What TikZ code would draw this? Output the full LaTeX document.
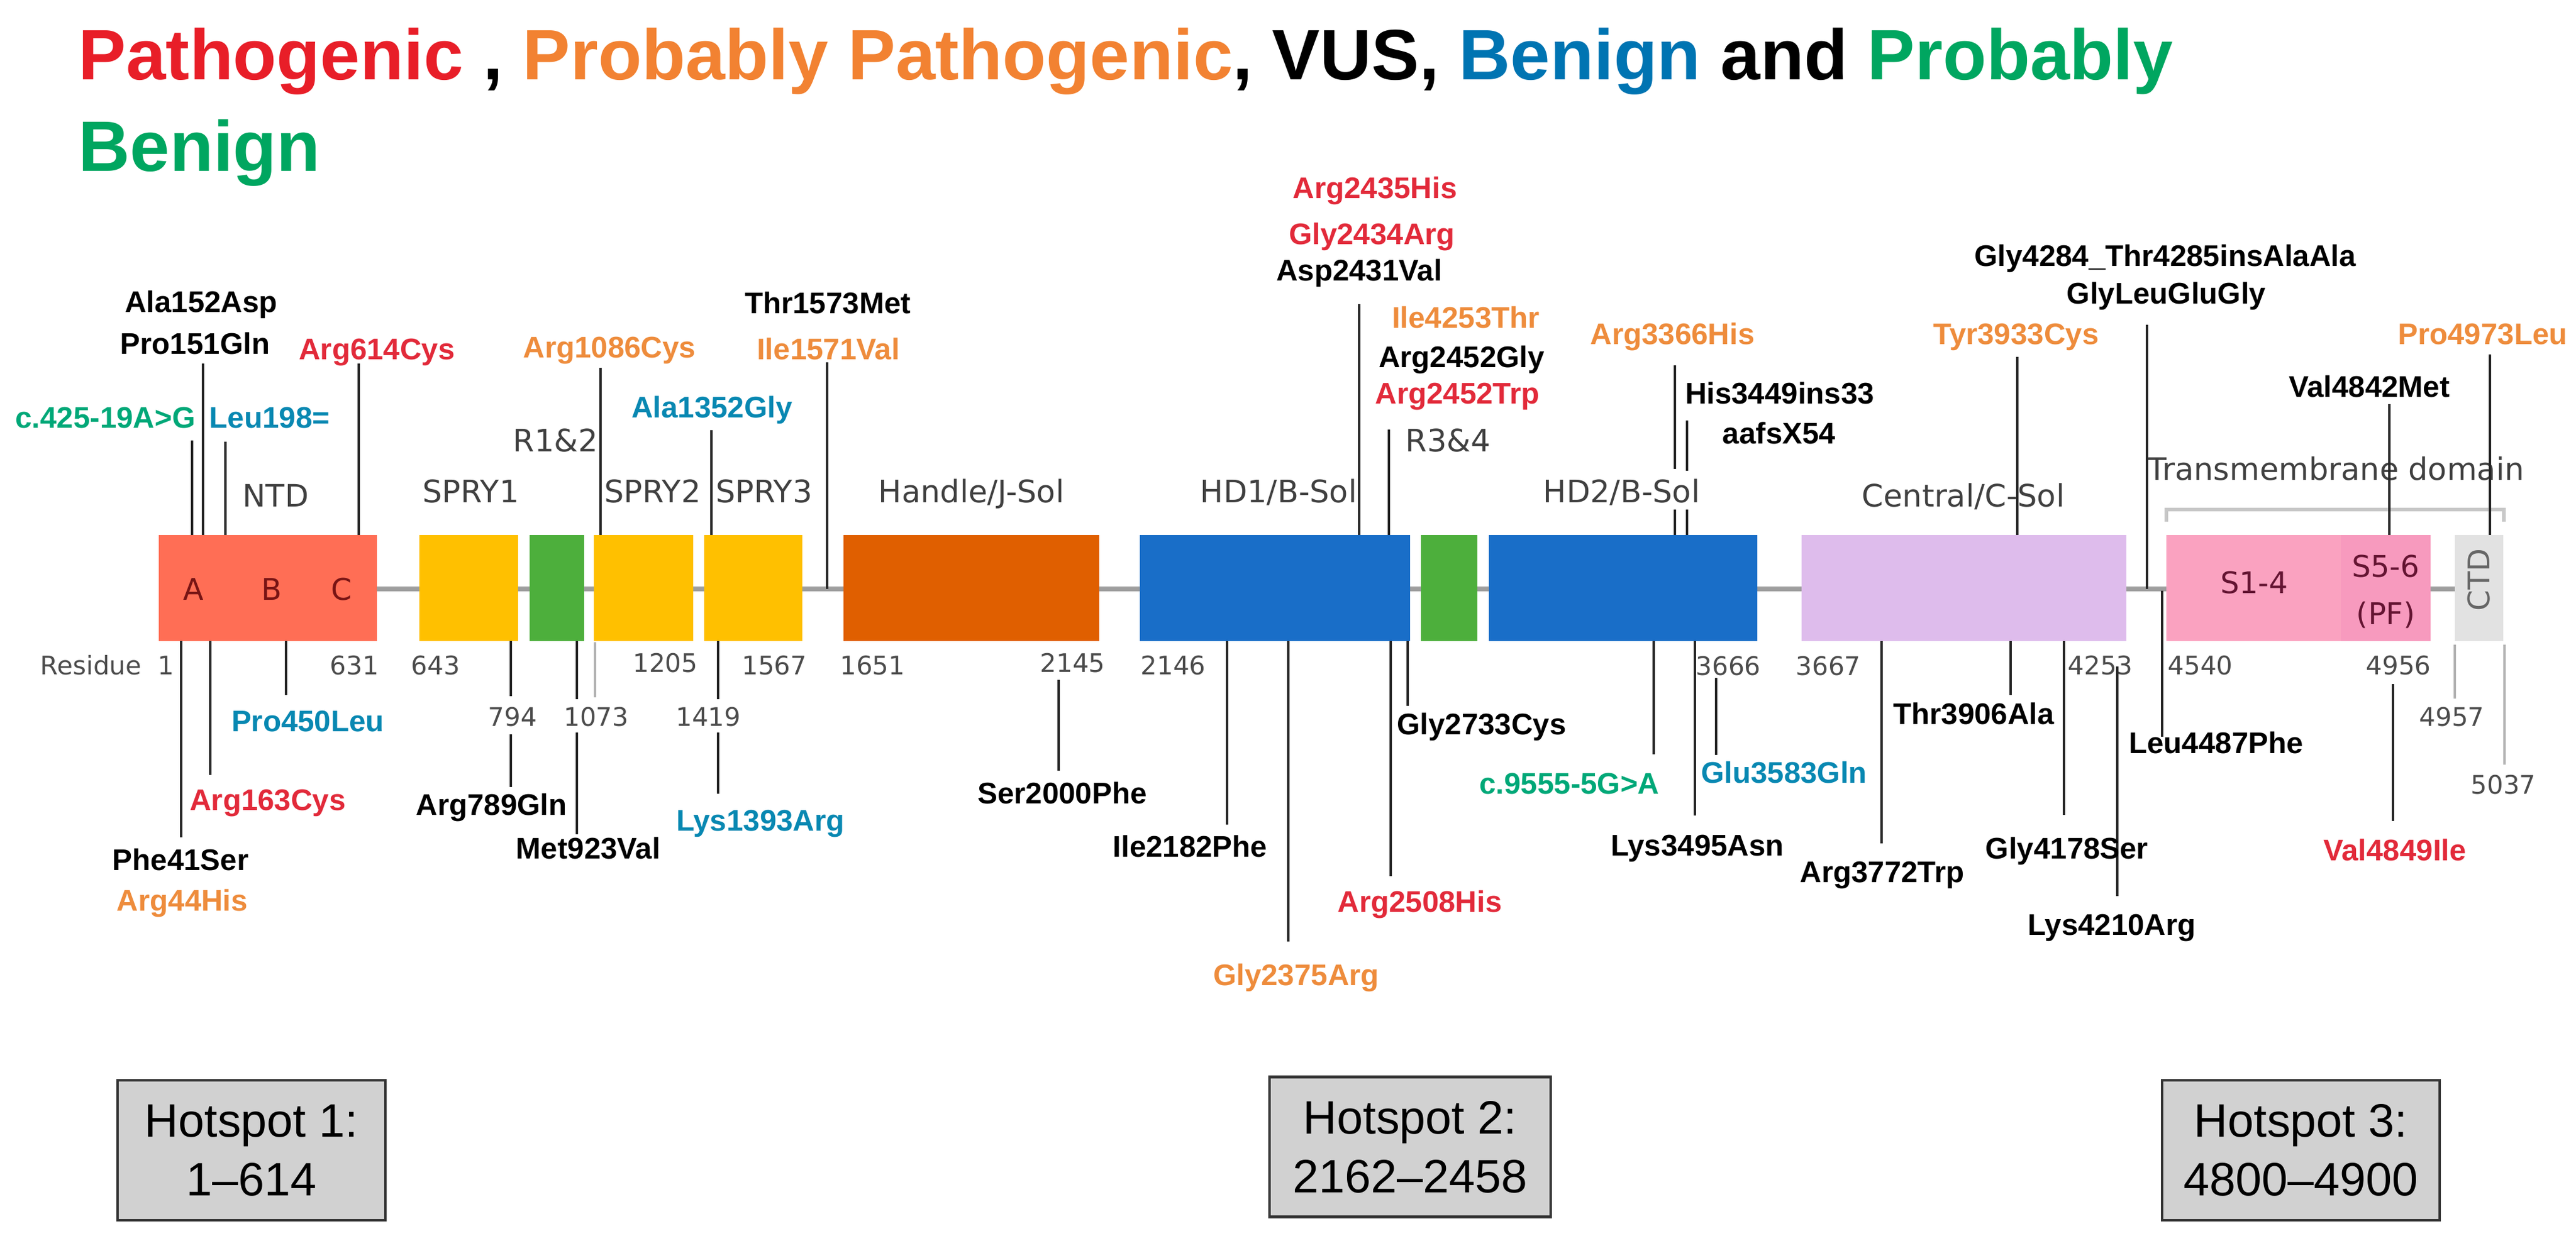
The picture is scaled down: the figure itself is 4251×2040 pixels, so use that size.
\documentclass[tikz,border=0pt]{standalone}
\usepackage{fontspec}
\setmainfont{Liberation Sans}
\newfontfamily\dvs{DejaVu Sans}
\definecolor{cPath}{RGB}{232,30,40}
\definecolor{cProb}{RGB}{242,130,50}
\definecolor{cBen}{RGB}{0,116,178}
\definecolor{cPB}{RGB}{0,166,96}
\definecolor{lPath}{RGB}{226,42,58}
\definecolor{lProb}{RGB}{238,140,60}
\definecolor{lBen}{RGB}{8,136,178}
\definecolor{lPB}{RGB}{0,168,120}
\definecolor{fNTD}{RGB}{255,110,85}
\definecolor{fSPRY}{RGB}{255,192,0}
\definecolor{fGreen}{RGB}{77,175,60}
\definecolor{fHandle}{RGB}{224,95,0}
\definecolor{fHD}{RGB}{25,110,200}
\definecolor{fCent}{RGB}{222,188,236}
\definecolor{fSone}{RGB}{250,162,192}
\definecolor{fSfive}{RGB}{247,154,190}
\definecolor{fCTD}{RGB}{226,226,226}
\definecolor{txtDom}{RGB}{64,64,64}
\newcommand\vln[4]{\coordinate (#1a) at (#2,#3); \coordinate (#1b) at (#2,#4); \draw[mline] (#1a) -- (#1b);}
\newcommand\gln[4]{\coordinate (#1a) at (#2,#3); \coordinate (#1b) at (#2,#4); \draw[gline] (#1a) -- (#1b);}
\begin{document}
\begin{tikzpicture}[x=0.01cm,y=-0.01cm,
  mut/.style={font=\fontsize{14}{16}\selectfont\bfseries, anchor=base, inner sep=0pt},
  mline/.style={draw=black!85, line width=1.3pt},
  gline/.style={draw=black!30, line width=1pt},
  dlab/.style={font=\dvs\fontsize{14.5}{17}\selectfont, text=txtDom, anchor=base, inner sep=0pt},
  rnum/.style={font=\dvs\fontsize{12}{14}\selectfont, text=black!70, anchor=base, inner sep=0pt},
  dom/.style={inner sep=0pt, minimum height=1.75cm, draw=none},
  inlab/.style={font=\dvs\fontsize{14}{17}\selectfont, inner sep=0pt},
  hot/.style={draw=black!80, fill=black!18, line width=1.2pt, inner sep=0pt, align=center,
    minimum height=2.31cm, font=\fontsize{22}{27.6}\selectfont},
  backbone/.style={draw=black!38, line width=2pt},
  bracket/.style={draw=black!22, line width=1.8pt}
]
\useasboundingbox[fill=white] (0,0) rectangle (4251,2040);

% title
\node[anchor=base west, inner sep=0pt, font=\fontsize{33.5}{40}\selectfont\bfseries] (title1) at (129,132)
  {\textcolor{cPath}{Pathogenic} , \textcolor{cProb}{Probably Pathogenic}, VUS, \textcolor{cBen}{Benign} and \textcolor{cPB}{Probably}};
\node[anchor=base west, inner sep=0pt, font=\fontsize{33.5}{40}\selectfont\bfseries, text=cPB] (title2) at (129,283) {Benign};

% backbone
\coordinate (bbL) at (622,972);
\coordinate (bbR) at (4051,972);
\draw[backbone] (bbL) -- (bbR);

% domains
\node[dom, fill=fNTD, minimum width=3.6cm] (ntd) at (442,970.5) {};
\node[dom, fill=fSPRY, minimum width=1.63cm] (spry1) at (773.5,970.5) {};
\node[dom, fill=fGreen, minimum width=0.9cm] (r12) at (919,970.5) {};
\node[dom, fill=fSPRY, minimum width=1.64cm] (spry2) at (1062,970.5) {};
\node[dom, fill=fSPRY, minimum width=1.62cm] (spry3) at (1243,970.5) {};
\node[dom, fill=fHandle, minimum width=4.22cm] (handle) at (1603,970.5) {};
\node[dom, fill=fHD, minimum width=4.46cm] (hd1) at (2104,970.5) {};
\node[dom, fill=fGreen, minimum width=0.93cm] (r34) at (2391.5,970.5) {};
\node[dom, fill=fHD, minimum width=4.43cm] (hd2) at (2678.5,970.5) {};
\node[dom, fill=fCent, minimum width=5.36cm] (cent) at (3241,970.5) {};
\node[dom, fill=fSone, minimum width=2.88cm] (sone) at (3719,970.5) {};
\node[dom, fill=fSfive, minimum width=1.48cm] (sfive) at (3937,970.5) {};
\node[dom, fill=fCTD, minimum width=0.8cm] (ctd) at (4091,970.5) {};

% in-box labels
\node[inlab, text={rgb,255:red,120;green,20;blue,20}] (lA) at (319,973) {A};
\node[inlab, text={rgb,255:red,120;green,20;blue,20}] (lB) at (448,973) {B};
\node[inlab, text={rgb,255:red,120;green,20;blue,20}] (lC) at (564,973) {C};
\node[inlab, text={rgb,255:red,100;green,20;blue,50}] (lS14) at (3720,962) {S1-4};
\node[inlab, text={rgb,255:red,100;green,20;blue,50}] (lS56) at (3937,935) {S5-6};
\node[inlab, text={rgb,255:red,100;green,20;blue,50}] (lPF) at (3937,1015) {(PF)};
\node[inlab, text=black!60, rotate=90] (lCTD) at (4091,957) {CTD};

% transmembrane bracket
\coordinate (brA) at (3575,861);
\coordinate (brB) at (3575,841);
\coordinate (brC) at (4132,841);
\coordinate (brD) at (4132,861);
\draw[bracket] (brA) -- (brB) -- (brC) -- (brD);

% domain labels
\node[dlab] (dNTD) at (455,837) {NTD};
\node[dlab] (dS1) at (777,830) {SPRY1};
\node[dlab] (dR12) at (917,745) {R1\&2};
\node[dlab] (dS2) at (1077,830) {SPRY2};
\node[dlab] (dS3) at (1261,830) {SPRY3};
\node[dlab] (dHan) at (1603,830) {Handle/J-Sol};
\node[dlab] (dHD1) at (2110,830) {HD1/B-Sol};
\node[dlab] (dR34) at (2390,745) {R3\&4};
\node[dlab] (dHD2) at (2676,830) {HD2/B-Sol};
\node[dlab] (dCen) at (3240,837) {Central/C-Sol};
\node[dlab] (dTM) at (3855,792) {Transmembrane domain};

% residue numbers
\node[rnum] (n1) at (177,1113) {Residue\ \ 1};
\node[rnum] (n631) at (585,1113) {631};
\node[rnum] (n643) at (719,1113) {643};
\node[rnum] (n1205) at (1098,1109) {1205};
\node[rnum] (n1567) at (1278,1113) {1567};
\node[rnum] (n794) at (846,1198) {794};
\node[rnum] (n1073) at (984,1198) {1073};
\node[rnum] (n1419) at (1169,1198) {1419};
\node[rnum] (n1651) at (1440,1113) {1651};
\node[rnum] (n2145) at (1770,1109) {2145};
\node[rnum] (n2146) at (1936,1113) {2146};
\node[rnum] (n3666) at (2852,1114) {3666};
\node[rnum] (n3667) at (3017,1114) {3667};
\node[rnum] (n4253) at (3466,1113) {4253};
\node[rnum] (n4540) at (3631,1113) {4540};
\node[rnum] (n4956) at (3958,1113) {4956};
\node[rnum] (n4957) at (4046,1198) {4957};
\node[rnum] (n5037) at (4131,1310) {5037};
\gln{g1073}{982}{1060}{1151}
\gln{g4957}{4051}{1064}{1153}
\gln{g5037}{4133}{1064}{1262}

% connector lines above the bar
\vln{u1}{335}{600}{883}
\vln{u2}{317}{727}{883}
\vln{u3}{372}{729}{883}
\vln{u4}{592}{600}{883}
\vln{u5}{991}{607}{883}
\vln{u6}{1174}{710}{883}
\vln{u7}{1365}{598}{972}
\vln{u8}{2243}{502}{883}
\vln{u9}{2292}{709}{883}
\vln{u10}{2764}{603}{774}
\vln{u10c}{2764}{841}{883}
\vln{u11}{2784}{694}{777}
\vln{u11c}{2784}{841}{883}
\vln{u12}{3329}{589}{883}
\vln{u13}{3543}{536}{972}
\vln{u14}{4109}{585}{883}
\vln{u15}{3943}{667}{883}

% connector lines below the bar
\vln{d1}{299}{1058}{1382}
\vln{d2}{347}{1058}{1279}
\vln{d3}{472}{1058}{1147}
\vln{d4}{843}{1058}{1149}
\vln{d4c}{843}{1212}{1299}
\vln{d5}{952}{1058}{1154}
\vln{d5c}{952}{1209}{1377}
\vln{d6}{1185}{1058}{1154}
\vln{d6c}{1185}{1209}{1310}
\vln{d7}{1747}{1122}{1272}
\vln{d8}{2025}{1058}{1361}
\vln{d9}{2126}{1058}{1554}
\vln{d10}{2295}{1058}{1446}
\vln{d11}{2323}{1058}{1165}
\vln{d12}{2729}{1058}{1245}
\vln{d13}{2797}{1058}{1346}
\vln{d14}{2832}{1119}{1246}
\vln{d15}{3105}{1058}{1392}
\vln{d16}{3318}{1058}{1147}
\vln{d17}{3406}{1058}{1345}
\vln{d18}{3494}{1100}{1479}
\vln{d19}{3568}{975}{1216}
\vln{d20}{3949}{1129}{1355}

% mutation labels above
\node[mut] (mA152) at (332,516) {Ala152Asp};
\node[mut] (mP151) at (322,585) {Pro151Gln};
\node[mut, text=lPB] (mc425) at (174,707) {c.425-19A>G};
\node[mut, text=lBen] (mL198) at (445,707) {Leu198=};
\node[mut, text=lPath] (mR614) at (622,594) {Arg614Cys};
\node[mut, text=lProb] (mR1086) at (1006,591) {Arg1086Cys};
\node[mut, text=lBen] (mA1352) at (1175,690) {Ala1352Gly};
\node[mut] (mT1573) at (1366,518) {Thr1573Met};
\node[mut, text=lProb] (mI1571) at (1367,594) {Ile1571Val};
\node[mut, text=lPath] (mR2435) at (2269,328) {Arg2435His};
\node[mut, text=lPath] (mG2434) at (2264,404) {Gly2434Arg};
\node[mut] (mD2431) at (2243,464) {Asp2431Val};
\node[mut, text=lProb] (mI4253) at (2419,542) {Ile4253Thr};
\node[mut] (mR2452G) at (2412,607) {Arg2452Gly};
\node[mut, text=lPath] (mR2452T) at (2405,667) {Arg2452Trp};
\node[mut, text=lProb] (mR3366) at (2760,569) {Arg3366His};
\node[mut] (mH3449) at (2937,667) {His3449ins33};
\node[mut] (maafs) at (2936,732) {aafsX54};
\node[mut, text=lProb] (mY3933) at (3327,569) {Tyr3933Cys};
\node[mut] (mG4284) at (3573,440) {Gly4284\_Thr4285insAlaAla};
\node[mut] (mGLEG) at (3575,502) {GlyLeuGluGly};
\node[mut, text=lProb] (mP4973) at (4097,569) {Pro4973Leu};
\node[mut] (mV4842) at (3910,656) {Val4842Met};

% mutation labels below
\node[mut] (mF41) at (298,1436) {Phe41Ser};
\node[mut, text=lProb] (mR44) at (301,1503) {Arg44His};
\node[mut, text=lPath] (mR163) at (442,1337) {Arg163Cys};
\node[mut, text=lBen] (mP450) at (508,1207) {Pro450Leu};
\node[mut] (mR789) at (811,1345) {Arg789Gln};
\node[mut] (mM923) at (971,1417) {Met923Val};
\node[mut, text=lBen] (mK1393) at (1255,1371) {Lys1393Arg};
\node[mut] (mS2000) at (1753,1326) {Ser2000Phe};
\node[mut] (mI2182) at (1964,1414) {Ile2182Phe};
\node[mut, text=lProb] (mG2375) at (2139,1626) {Gly2375Arg};
\node[mut, text=lPath] (mR2508) at (2343,1505) {Arg2508His};
\node[mut] (mG2733) at (2445,1212) {Gly2733Cys};
\node[mut, text=lPB] (mc9555) at (2590,1310) {c.9555-5G>A};
\node[mut] (mK3495) at (2801,1412) {Lys3495Asn};
\node[mut, text=lBen] (mE3583) at (2944,1292) {Glu3583Gln};
\node[mut] (mR3772) at (3106,1456) {Arg3772Trp};
\node[mut] (mT3906) at (3257,1195) {Thr3906Ala};
\node[mut] (mG4178) at (3411,1417) {Gly4178Ser};
\node[mut] (mK4210) at (3485,1543) {Lys4210Arg};
\node[mut] (mL4487) at (3657,1243) {Leu4487Phe};
\node[mut, text=lPath] (mV4849) at (3952,1420) {Val4849Ile};

% hotspots
\node[hot, minimum width=4.42cm] (hot1) at (415,1898.5) {Hotspot 1:\\1–614};
\node[hot, minimum width=4.64cm] (hot2) at (2327,1893) {Hotspot 2:\\2162–2458};
\node[hot, minimum width=4.58cm] (hot3) at (3797,1898.5) {Hotspot 3:\\4800–4900};
\end{tikzpicture}
\end{document}
